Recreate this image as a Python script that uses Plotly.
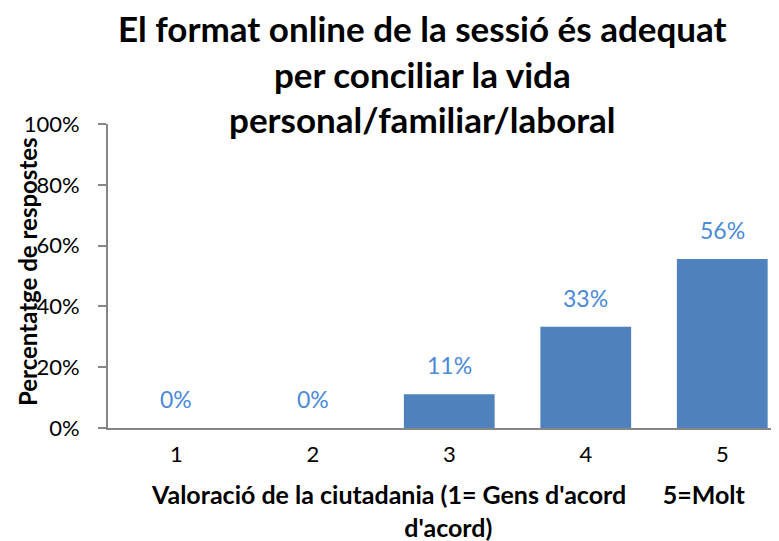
import plotly.graph_objects as go

categories = ["1", "2", "3", "4", "5"]
values = [0, 0, 11.1, 33.3, 55.6]
labels = ["0%", "0%", "11%", "33%", "56%"]
ytick_vals = [0, 20, 40, 60, 80, 100]
ytick_text = ["0%", "20%", "40%", "60%", "80%", "100%"]

FONT = "Lato"
xs = [1, 2, 3, 4, 5]

fig = go.Figure()
fig.add_trace(go.Bar(
    x=xs, y=values, width=0.665,
    marker=dict(color="#4f81bd", line=dict(width=0)),
    hoverinfo="skip",
))

for x, v, t in zip(xs, values, labels):
    fig.add_annotation(x=x, y=v, text=t, showarrow=False, xref="x", yref="y",
                       yanchor="bottom", yshift=13,
                       font=dict(family=FONT, size=23, color="#4a8ad8"))

fig.update_layout(
    width=771, height=533,
    margin=dict(l=100, r=8, t=116, b=112.5),
    paper_bgcolor="white", plot_bgcolor="white",
    showlegend=False,
    font=dict(family=FONT, color="black"),
)
fig.update_xaxes(
    range=[0.5, 5.357], tickvals=xs, ticktext=categories,
    showline=True, linecolor="#868686", linewidth=2,
    ticks="", showgrid=False, zeroline=False, ticklabelstandoff=6,
    tickfont=dict(family=FONT, size=22, color="black"),
)
fig.update_yaxes(
    range=[0, 100], tickvals=ytick_vals, ticktext=ytick_text,
    showline=True, linecolor="#868686", linewidth=2,
    ticks="outside", ticklen=8, tickcolor="#868686", tickwidth=2,
    showgrid=False, zeroline=False, ticklabelstandoff=14,
    tickfont=dict(family=FONT, size=22, color="black"),
)

fig.add_annotation(
    text="<b>El format online de la sessió és adequat<br>per conciliar la vida<br>personal/familiar/laboral</b>",
    xref="paper", yref="paper", x=(422 - 108) / 663, y=1 + (124 - 5) / 305,
    xanchor="center", yanchor="top", showarrow=False, align="center",
    font=dict(family=FONT, size=35, color="black"),
)
fig.add_annotation(
    text="<b>Percentatge de respostes</b>",
    xref="paper", yref="paper", x=(27 - 108) / 663, y=(428.5 - 272) / 305,
    xanchor="center", yanchor="middle", textangle=-90, showarrow=False,
    font=dict(family=FONT, size=24, color="black"),
)
fig.add_annotation(
    text="<b>Valoració de la ciutadania (1= Gens d'acord      5=Molt<br>d'acord)</b>",
    xref="paper", yref="paper", x=(448 - 108) / 663, y=-(478 - 428.5) / 305,
    xanchor="center", yanchor="top", showarrow=False, align="center",
    font=dict(family=FONT, size=25, color="black"),
)

fig.write_html("out.html")
